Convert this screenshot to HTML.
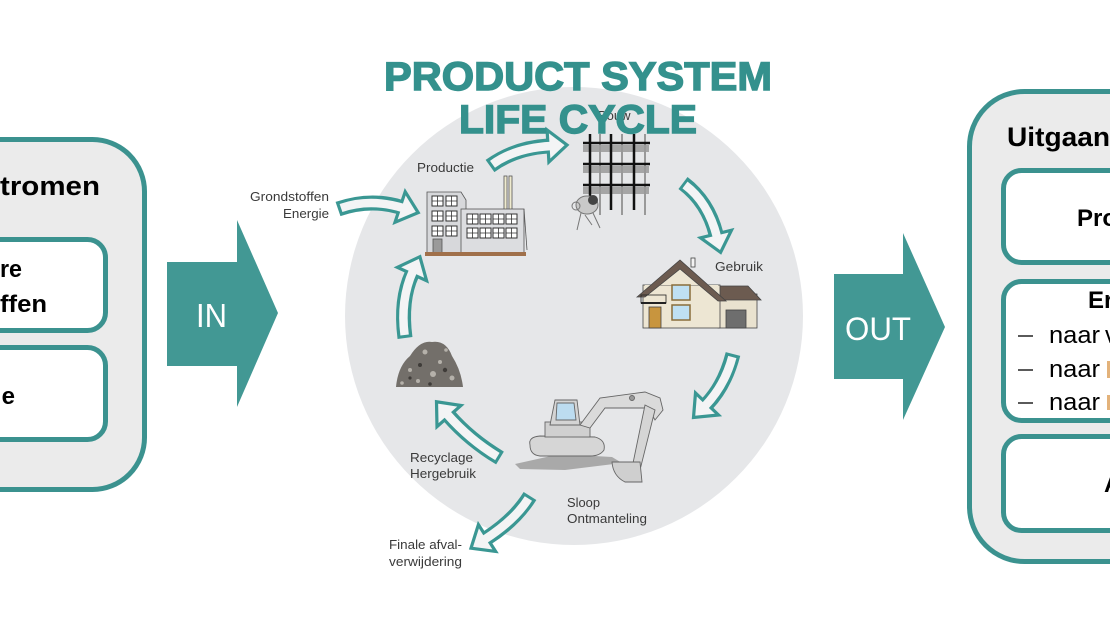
<!DOCTYPE html>
<html><head><meta charset="utf-8"><style>
html,body{margin:0;padding:0;background:#fff;}
svg{display:block;}
text{font-family:"Liberation Sans",sans-serif;}
</style></head><body>
<svg width="1110" height="624" viewBox="0 0 1110 624" xmlns="http://www.w3.org/2000/svg">
<rect width="1110" height="624" fill="#fff"/>

<!-- Left box -->
<rect x="-60" y="139.5" width="204.5" height="350" rx="52" fill="#ebebeb" stroke="#3b928f" stroke-width="5"/>
<text x="0" y="195" font-size="27" font-weight="bold" fill="#000" textLength="100" lengthAdjust="spacingAndGlyphs">tromen</text>
<rect x="-50" y="239.5" width="155.5" height="91" rx="18" fill="#fff" stroke="#3b928f" stroke-width="5"/>
<text x="0" y="277" font-size="24" font-weight="bold" fill="#000" textLength="22" lengthAdjust="spacingAndGlyphs">re</text>
<text x="0" y="312" font-size="24" font-weight="bold" fill="#000" textLength="47" lengthAdjust="spacingAndGlyphs">ffen</text>
<rect x="-50" y="347.5" width="155.5" height="92" rx="18" fill="#fff" stroke="#3b928f" stroke-width="5"/>
<text x="15" y="404" text-anchor="end" font-size="24" font-weight="bold" fill="#000">e</text>

<!-- IN arrow -->
<polygon points="167,262 237,262 237,220 278,313 237,407 237,366 167,366" fill="#429894"/>
<text x="196" y="327" font-size="33" fill="#fff" textLength="31" lengthAdjust="spacingAndGlyphs">IN</text>

<!-- OUT arrow -->
<polygon points="834,274 903,274 903,233 945,327 903,420 903,379 834,379" fill="#429894"/>
<text x="845" y="340" font-size="32" fill="#fff" textLength="66" lengthAdjust="spacingAndGlyphs">OUT</text>

<!-- Right box -->
<rect x="969.5" y="91.5" width="200" height="470" rx="55" fill="#ebebeb" stroke="#3b928f" stroke-width="5"/>
<text x="1007" y="146" font-size="27" font-weight="bold" fill="#000" textLength="103" lengthAdjust="spacingAndGlyphs">Uitgaan</text>
<rect x="1003.5" y="170.5" width="150" height="92" rx="18" fill="#fff" stroke="#3b928f" stroke-width="5"/>
<text x="1077" y="226" font-size="24" font-weight="bold" fill="#000">Pro</text>
<rect x="1003.5" y="281.5" width="150" height="139" rx="18" fill="#fff" stroke="#3b928f" stroke-width="5"/>
<text x="1088" y="308" font-size="24" font-weight="bold" fill="#000">Er</text>
<line x1="1018" y1="336" x2="1033" y2="336" stroke="#000" stroke-width="1.3"/>
<line x1="1018" y1="370" x2="1033" y2="370" stroke="#000" stroke-width="1.3"/>
<line x1="1018" y1="403" x2="1033" y2="403" stroke="#000" stroke-width="1.3"/>
<text x="1049" y="343" font-size="24" fill="#000" textLength="51" lengthAdjust="spacingAndGlyphs">naar</text>
<text x="1105" y="343" font-size="24" fill="#000">v</text>
<text x="1049" y="377" font-size="24" fill="#000" textLength="51" lengthAdjust="spacingAndGlyphs">naar</text>
<rect x="1107" y="361" width="3" height="17" fill="#e3b27a"/>
<text x="1049" y="410" font-size="24" fill="#000" textLength="51" lengthAdjust="spacingAndGlyphs">naar</text>
<rect x="1107" y="395" width="3" height="15" fill="#e3b27a"/>
<rect x="1003.5" y="436.5" width="150" height="94" rx="18" fill="#fff" stroke="#3b928f" stroke-width="5"/>
<text x="1104" y="492" font-size="24" font-weight="bold" fill="#000">A</text>

<!-- Circle -->
<circle cx="574" cy="316" r="229" fill="#e6e7e9"/>

<!-- Factory -->
<g stroke="#555" stroke-width="0.8">
  <rect x="504" y="176" width="3" height="34" fill="#efebcf"/>
  <rect x="509" y="176" width="3" height="34" fill="#efebcf"/>
  <polygon points="427,192 461,192 466,200 466,253 427,253" fill="#d7d8db"/>
  <rect x="461" y="209" width="63" height="44" fill="#dcdde0"/>
  <line x1="524" y1="209" x2="527" y2="250" />
</g>
<g fill="#fff" stroke="#333" stroke-width="1">
  <rect x="432" y="196" width="11" height="10"/><rect x="446" y="196" width="11" height="10"/>
  <rect x="432" y="211" width="11" height="10"/><rect x="446" y="211" width="11" height="10"/>
  <rect x="432" y="226" width="11" height="10"/><rect x="446" y="226" width="11" height="10"/>
  <rect x="467" y="214" width="11" height="10"/><rect x="480" y="214" width="11" height="10"/>
  <rect x="493" y="214" width="11" height="10"/><rect x="506" y="214" width="11" height="10"/>
  <rect x="467" y="228" width="11" height="10"/><rect x="480" y="228" width="11" height="10"/>
  <rect x="493" y="228" width="11" height="10"/><rect x="506" y="228" width="11" height="10"/>
</g>
<g stroke="#333" stroke-width="0.8">
  <path d="M437.5 196v10M432 201h11M451.5 196v10M446 201h11M437.5 211v10M432 216h11M451.5 211v10M446 216h11M437.5 226v10M432 231h11M451.5 226v10M446 231h11"/>
  <path d="M472.5 214v10M467 219h11M485.5 214v10M480 219h11M498.5 214v10M493 219h11M511.5 214v10M506 219h11"/>
  <path d="M472.5 228v10M467 233h11M485.5 228v10M480 233h11M498.5 228v10M493 233h11M511.5 228v10M506 233h11"/>
</g>
<rect x="433" y="239" width="9" height="14" fill="#9a9a9a" stroke="#555" stroke-width="0.8"/>
<rect x="425" y="252" width="101" height="4" fill="#a0704a"/>

<!-- Scaffold -->
<g>
  <rect x="583" y="145" width="66" height="7" fill="#a5a5a5"/>
  <rect x="583" y="166" width="66" height="7" fill="#a5a5a5"/>
  <rect x="583" y="187" width="66" height="7" fill="#a5a5a5"/>
  <g stroke="#999" stroke-width="2"><line x1="600" y1="134" x2="600" y2="215"/><line x1="622" y1="134" x2="622" y2="215"/><line x1="645" y1="134" x2="645" y2="215"/></g>
  <g stroke="#111" stroke-width="2.5">
    <line x1="583" y1="143" x2="650" y2="143"/><line x1="583" y1="164" x2="650" y2="164"/><line x1="583" y1="185" x2="650" y2="185"/>
    <line x1="590" y1="134" x2="590" y2="210"/><line x1="611" y1="134" x2="611" y2="210"/><line x1="634" y1="134" x2="634" y2="210"/>
  </g>
</g>
<!-- Mixer -->
<g stroke="#777" stroke-width="1" fill="none">
  <ellipse cx="587" cy="205" rx="11" ry="9" fill="#c9c9c9"/>
  <circle cx="593" cy="200" r="5" fill="#444" stroke="none"/>
  <circle cx="576" cy="206" r="4"/>
  <path d="M581 213 L577 230 M593 213 L600 228 M585 215 L592 225"/>
</g>

<!-- House -->
<g stroke="#444" stroke-width="0.8">
  <rect x="718" y="294" width="39" height="34" fill="#e9e2cf"/>
  <rect x="726" y="310" width="20" height="18" fill="#6e6e6e"/>
  <polygon points="700,286 748,286 761,300 718,300" fill="#6c5b50"/>
  <rect x="643" y="285" width="77" height="43" fill="#ede6d3"/>
  <polygon points="645,297 680,268 718,299 718,285 645,285" fill="#ede6d3" stroke="none"/>
  <polygon points="637,297 680,260 726,301 718,301 680,269 645,297" fill="#6c5b50"/>
  <rect x="691" y="258" width="4" height="9" fill="#f3f3f3"/>
  <rect x="672" y="285" width="18" height="15" fill="#bfe0f2" stroke="#8a6d3a" stroke-width="1.5"/>
  <rect x="672" y="305" width="18" height="15" fill="#bfe0f2" stroke="#8a6d3a" stroke-width="1.5"/>
  <rect x="649" y="307" width="12" height="21" fill="#c8953e"/>
  <rect x="641" y="295" width="25" height="8" fill="none" stroke="#222"/>
  <line x1="641" y1="303" x2="666" y2="303" stroke="#222" stroke-width="2"/>
</g>

<!-- Excavator -->
<g stroke="#666" stroke-width="0.9">
  <polygon points="515,464 560,454 612,457 622,463 565,470 520,469" fill="#a9a9a9" stroke="none"/>
  <path d="M530 445 Q528 437 540 436 L595 437 Q606 440 604 450 Q600 456 590 456 L540 456 Q530 455 530 445Z" fill="#d6d6d6"/>
  <rect x="545" y="422" width="45" height="15" fill="#d0d0d0"/>
  <polygon points="550,425 555,400 577,400 580,425" fill="#d4d4d4"/>
  <polygon points="557,403 574,403 576,420 556,420" fill="#bcdcf0"/>
  <path d="M580 425 L600 398 L645 392 L660 398 L663 410 L655 420 L648 408 L605 408 L590 428Z" fill="#dadada"/>
  <path d="M645 405 L655 410 L640 470 L632 468Z" fill="#d5d5d5"/>
  <path d="M612 462 L640 462 L642 482 L625 482 Q613 476 612 462Z" fill="#cfcfcf"/>
  <circle cx="632" cy="398" r="2.5" fill="#999"/>
</g>

<!-- Rubble -->
<g>
  <path d="M396 387 Q398 366 410 356 Q420 340 432 342 Q446 340 452 356 Q461 370 463 387Z" fill="#736f6a"/>
  <g fill="#b5b1aa"><circle cx="410" cy="370" r="2"/><circle cx="425" cy="352" r="2.5"/><circle cx="440" cy="362" r="2"/><circle cx="452" cy="378" r="2.5"/><circle cx="418" cy="381" r="2"/><circle cx="433" cy="374" r="3"/><circle cx="402" cy="383" r="1.8"/><circle cx="446" cy="350" r="1.8"/></g>
  <g fill="#3f3c39"><circle cx="420" cy="365" r="2"/><circle cx="445" cy="370" r="2.2"/><circle cx="430" cy="384" r="1.8"/><circle cx="410" cy="378" r="1.6"/></g>
</g>

<!-- Hollow arrows -->
<g fill="none" stroke="#3a9793" stroke-width="15">
  <path d="M338 209 Q370 198 400 207"/>
  <path d="M490 166 Q515 148 548 146"/>
  <path d="M683 183 Q708 202 716 234"/>
  <path d="M733 354 Q725 385 707 404"/>
  <path d="M500 458 Q470 440 449 416"/>
  <path d="M405 338 Q400 300 412 274"/>
  <path d="M530 496 Q515 520 487 538"/>
</g>
<g fill="#f3f4f5" stroke="#3a9793" stroke-width="3.2" stroke-linejoin="miter">
  <polygon points="395,222.3 418.2,212.6 405.2,191.7"/>
  <polygon points="548.9,162 567,145 547.1,130"/>
  <polygon points="731.5,230.2 720.6,252.4 700.5,237.8"/>
  <polygon points="718.5,415 693.5,417.5 695.5,393"/>
  <polygon points="461,405.5 436.5,401.8 437,426.6"/>
  <polygon points="426.6,280.7 419.9,256.7 397.4,267.3"/>
  <polygon points="495.6,551.4 471,548.2 478.4,524.6"/>
</g>
<g fill="none" stroke="#f3f4f5" stroke-width="8.5">
  <path d="M341 208 Q370 198 403 208"/>
  <path d="M492.5 164.3 Q515 148 551 146"/>
  <path d="M685 185 Q708 202 717 237"/>
  <path d="M732.3 357 Q725 385 705 406"/>
  <path d="M497.4 456.5 Q470 440 447 414"/>
  <path d="M404.6 335 Q400 300 413 271"/>
  <path d="M528.4 498.5 Q515 520 484.5 539.6"/>
</g>

<!-- Circle labels -->
<g font-size="13" fill="#3a3a3a">
  <text x="250" y="201" textLength="79" lengthAdjust="spacingAndGlyphs">Grondstoffen</text>
  <text x="283" y="218" textLength="46" lengthAdjust="spacingAndGlyphs">Energie</text>
  <text x="417" y="172" textLength="57" lengthAdjust="spacingAndGlyphs">Productie</text>
  <text x="598" y="120">Bouw</text>
  <text x="715" y="271" textLength="48" lengthAdjust="spacingAndGlyphs">Gebruik</text>
  <text x="567" y="507" textLength="33" lengthAdjust="spacingAndGlyphs">Sloop</text>
  <text x="567" y="523" textLength="80" lengthAdjust="spacingAndGlyphs">Ontmanteling</text>
  <text x="410" y="462" textLength="63" lengthAdjust="spacingAndGlyphs">Recyclage</text>
  <text x="410" y="478" textLength="66" lengthAdjust="spacingAndGlyphs">Hergebruik</text>
  <text x="389" y="549" textLength="73" lengthAdjust="spacingAndGlyphs">Finale afval-</text>
  <text x="389" y="566" textLength="73" lengthAdjust="spacingAndGlyphs">verwijdering</text>
</g>

<!-- Title -->
<g font-size="40" font-weight="bold" fill="#34918d" stroke="#34918d" stroke-width="1.4">
  <text x="384" y="90" textLength="388" lengthAdjust="spacingAndGlyphs">PRODUCT SYSTEM</text>
  <text x="459" y="133" textLength="238" lengthAdjust="spacingAndGlyphs">LIFE CYCLE</text>
</g>
</svg>
</body></html>
